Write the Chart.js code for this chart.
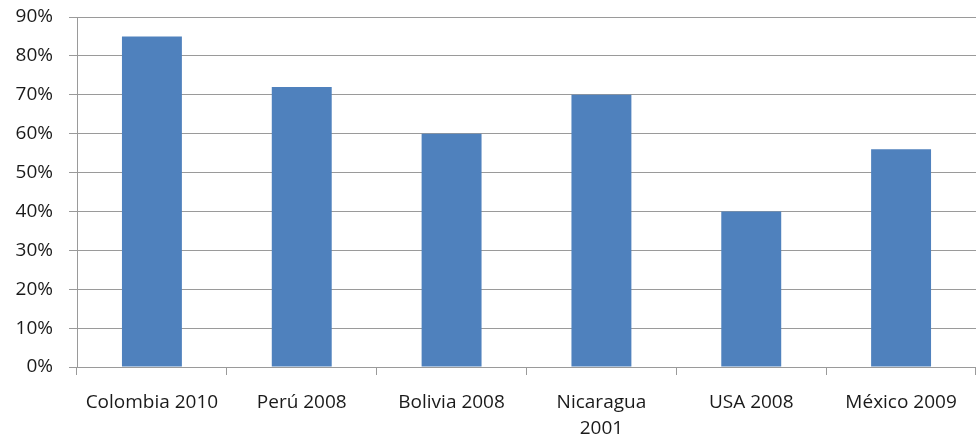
<!DOCTYPE html>
<html>
<head>
    <meta charset="utf-8">
    <title>Bar chart</title>
    <script src="https://cdn.jsdelivr.net/npm/chart.js"></script>
    <style>
        body { margin: 0; background: #ffffff; }
        .chart-container { width: 976px; height: 441px; }
    </style>
</head>
<body>
    <div class="chart-container">
        <canvas id="chart1" width="976" height="441"></canvas>
    </div>
    <script>
        // data
        const categories = ['Colombia 2010', 'Perú 2008', 'Bolivia 2008', ['Nicaragua', '2001'], 'USA 2008', 'México 2009'];
        const values = [85, 72, 60, 70, 40, 56];

        const gridColor = '#9a9a9a';
        const textColor = '#1a1a1a';

        const ctx1 = document.getElementById('chart1').getContext('2d');
        const chart1 = new Chart(ctx1, {
            type: 'bar',
            data: {
                labels: categories,
                datasets: [{
                    data: values,
                    backgroundColor: '#4F81BD',
                    borderWidth: 0,
                    categoryPercentage: 0.8,
                    barPercentage: 0.5
                }]
            },
            options: {
                responsive: false,
                animation: false,
                layout: { padding: { top: 17, right: 0, left: 0, bottom: 0 } },
                scales: {
                    x: {
                        afterFit: (scale) => { scale.height = 74; },
                        grid: {
                            drawOnChartArea: false,
                            drawTicks: true,
                            tickLength: 8,
                            color: gridColor,
                            offset: true
                        },
                        border: { color: gridColor },
                        ticks: {
                            color: textColor,
                            font: { family: 'Open Sans', size: 19, lineHeight: 1.35 },
                            maxRotation: 0,
                            autoSkip: false,
                            padding: 15
                        }
                    },
                    y: {
                        min: 0,
                        max: 90,
                        afterFit: (scale) => {
                            scale.width = 77;
                            scale.paddingTop = 0;
                            scale.paddingBottom = 0;
                        },
                        grid: {
                            color: gridColor,
                            tickLength: 8
                        },
                        border: { color: gridColor },
                        ticks: {
                            stepSize: 10,
                            color: textColor,
                            font: { family: 'Open Sans', size: 19 },
                            padding: 16,
                            callback: (v) => v + '%'
                        }
                    }
                },
                plugins: {
                    legend: { display: false },
                    tooltip: { enabled: false }
                }
            }
        });
    </script>
</body>
</html>
